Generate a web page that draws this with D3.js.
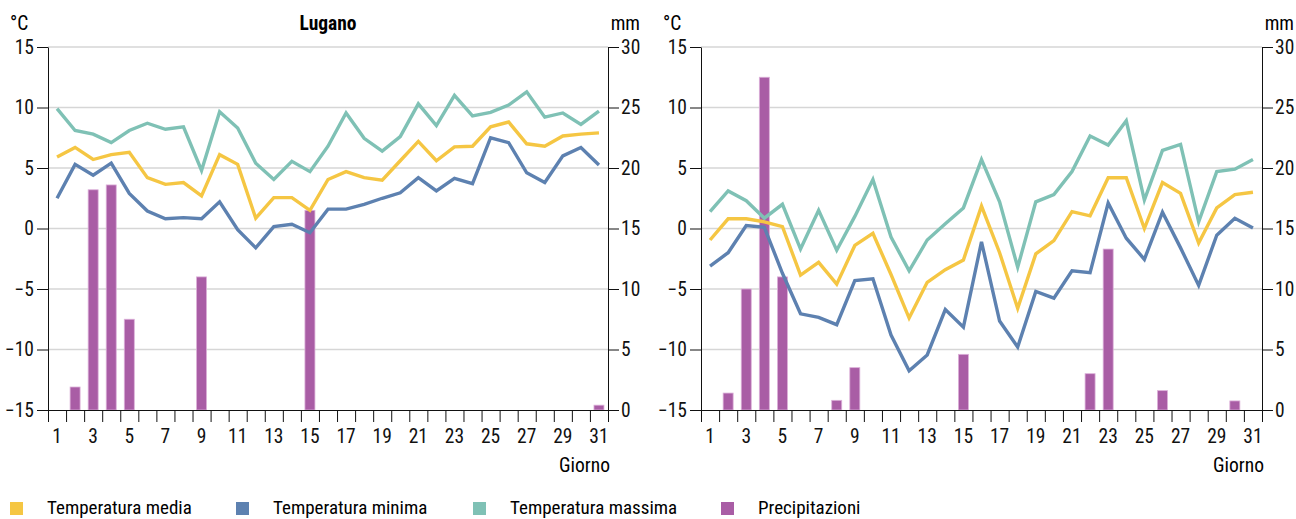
<!DOCTYPE html>
<html>
<head>
<meta charset="utf-8">
<script src="https://cdn.jsdelivr.net/npm/d3@7"></script>
<style>
  body { margin: 0; background: #fff; }
  svg { display: block; font-family: "Roboto Condensed", Roboto, sans-serif; }
  .grid line { stroke: #d6d6d6; stroke-width: 1.5; }
  .axis path, .axis line { stroke: #111; }
  .axis text { font-size: 19.5px; fill: #111; font-family: "Roboto Condensed", Roboto, sans-serif; }
</style>
</head>
<body>
<div class="chart-container"></div>
<script>
var width = 1296;
var height = 519;

var days = d3.range(1, 32);
var dayLabels = d3.range(1, 32, 2);
var tempTicks = [-15, -10, -5, 0, 5, 10, 15];
var rainTicks = [0, 5, 10, 15, 20, 25, 30];

// Lugano (left panel)
var luganoMedia = [5.9, 6.7, 5.7, 6.1, 6.3, 4.2, 3.65, 3.8, 2.7, 6.1, 5.3, 0.85, 2.55, 2.55, 1.5,
  4.05, 4.7, 4.2, 4.0, 5.6, 7.2, 5.6, 6.75, 6.8, 8.4, 8.8, 7.0, 6.8, 7.65, 7.8, 7.9];
var luganoMinima = [2.5, 5.3, 4.4, 5.4, 2.9, 1.45, 0.8, 0.9, 0.8, 2.2, -0.1, -1.6, 0.15, 0.35, -0.35,
  1.6, 1.6, 2.0, 2.5, 2.95, 4.2, 3.1, 4.15, 3.7, 7.5, 7.1, 4.6, 3.8, 6.0, 6.7, 5.25];
var luganoMassima = [9.9, 8.1, 7.8, 7.1, 8.1, 8.7, 8.2, 8.4, 4.8, 9.65, 8.3, 5.4, 4.05, 5.55, 4.7,
  6.8, 9.55, 7.45, 6.4, 7.6, 10.3, 8.5, 11.0, 9.3, 9.6, 10.2, 11.3, 9.2, 9.55, 8.6, 9.7];
var luganoPrec = [0, 1.9, 18.2, 18.6, 7.5, 0, 0, 0, 11.0, 0, 0, 0, 0, 0, 16.5,
  0, 0, 0, 0, 0, 0, 0, 0, 0, 0, 0, 0, 0, 0, 0, 0.4];

// second station (right panel)
var destraMedia = [-0.95, 0.8, 0.8, 0.55, 0.15, -3.85, -2.8, -4.6, -1.4, -0.4, -3.8, -7.4, -4.45, -3.4, -2.6,
  1.85, -2.0, -6.6, -2.1, -1.0, 1.4, 1.05, 4.2, 4.2, 0.0, 3.8, 2.9, -1.2, 1.7, 2.8, 3.0];
var destraMinima = [-3.1, -2.0, 0.25, 0.1, -3.7, -7.05, -7.35, -7.95, -4.3, -4.15, -8.8, -11.75, -10.45, -6.7, -8.15,
  -1.1, -7.65, -9.8, -5.2, -5.75, -3.5, -3.65, 2.1, -0.8, -2.55, 1.35, -1.6, -4.7, -0.55, 0.85, 0.05];
var destraMassima = [1.4, 3.1, 2.3, 0.85, 2.0, -1.7, 1.5, -1.8, 1.0, 4.05, -0.7, -3.5, -0.95, 0.4, 1.7,
  5.7, 2.2, -3.2, 2.2, 2.8, 4.7, 7.65, 6.9, 8.9, 2.35, 6.45, 6.95, 0.55, 4.7, 4.9, 5.7];
var destraPrec = [0, 1.4, 10.0, 27.5, 11.0, 0, 0, 0.8, 3.5, 0, 0, 0, 0, 0, 4.6,
  0, 0, 0, 0, 0, 0, 3.0, 13.3, 0, 0, 1.6, 0, 0, 0, 0.75, 0];

var legendItems = ['Temperatura media', 'Temperatura minima', 'Temperatura massima', 'Precipitazioni'];
var colors = {
  media: '#f5c643',
  minima: '#5d81b0',
  massima: '#7fc1b5',
  prec: '#a95da5'
};
var legendColors = [colors.media, colors.minima, colors.massima, colors.prec];

var svg = d3.select('.chart-container').append('svg')
  .attr('width', width)
  .attr('height', height);

function drawPanel(left, right, title, media, minima, massima, prec) {
  var top = 47, bottom = 410;

  var x = d3.scaleBand()
    .domain(days)
    .range([left, right]);

  var xEdge = d3.scaleLinear()
    .domain([0, 31])
    .range([left, right]);

  var y = d3.scaleLinear()
    .domain([-15, 15])
    .range([bottom, top]);

  var yRain = d3.scaleLinear()
    .domain([0, 30])
    .range([bottom, top]);

  var g = svg.append('g');

  g.append('g')
    .attr('class', 'grid')
    .selectAll('line')
    .data(tempTicks.slice(1))
    .enter().append('line')
      .attr('x1', left)
      .attr('x2', right)
      .attr('y1', d => y(d))
      .attr('y2', d => y(d));

  // precipitation bars
  var barW = 10;
  g.append('g')
    .selectAll('rect')
    .data(prec.map((v, i) => ({day: days[i], v: v})).filter(d => d.v > 0))
    .enter().append('rect')
      .attr('x', d => x(d.day) + x.bandwidth() / 2 - barW / 2)
      .attr('y', d => yRain(d.v))
      .attr('width', barW)
      .attr('height', d => yRain(0) - yRain(d.v))
      .attr('fill', colors.prec)
      .attr('stroke', '#dcb0d9')
      .attr('stroke-width', 0.8);

  var line = d3.line()
    .x((d, i) => x(days[i]) + x.bandwidth() / 2)
    .y(d => y(d));

  [[massima, colors.massima], [media, colors.media], [minima, colors.minima]].forEach(function(s) {
    g.append('path')
      .datum(s[0])
      .attr('d', line)
      .attr('fill', 'none')
      .attr('stroke', s[1])
      .attr('stroke-width', 3.4)
      .attr('stroke-linejoin', 'miter');
  });

  g.append('g')
    .attr('class', 'axis')
    .attr('transform', `translate(${left},0)`)
    .call(d3.axisLeft(y).tickValues(tempTicks).tickSize(11).tickSizeOuter(0).tickPadding(3));

  g.append('g')
    .attr('class', 'axis')
    .attr('transform', `translate(${right},0)`)
    .call(d3.axisRight(yRain).tickValues(rainTicks).tickSize(11).tickSizeOuter(0).tickPadding(2));

  // day ticks on the band edges
  g.append('g')
    .attr('class', 'axis')
    .attr('transform', `translate(0,${bottom})`)
    .call(d3.axisBottom(xEdge).tickValues(d3.range(0, 32)).tickSize(12).tickSizeOuter(0).tickFormat(''));

  var gx = g.append('g')
    .attr('class', 'axis')
    .attr('transform', `translate(0,${bottom})`)
    .call(d3.axisBottom(x).tickValues(dayLabels).tickSize(0).tickPadding(19));
  gx.select('.domain').remove();

  g.append('text')
    .attr('x', left - 38)
    .attr('y', 30)
    .attr('font-size', 19.5)
    .text('°C');

  g.append('text')
    .attr('x', right + 32)
    .attr('y', 30)
    .attr('text-anchor', 'end')
    .attr('font-size', 19.5)
    .text('mm');

  g.append('text')
    .attr('x', right + 2)
    .attr('y', 472)
    .attr('text-anchor', 'end')
    .attr('font-size', 19.5)
    .text('Giorno');

  if (title) {
    g.append('text')
      .attr('x', (left + right) / 2)
      .attr('y', 30)
      .attr('text-anchor', 'middle')
      .attr('font-size', 19.5)
      .attr('font-weight', 'bold')
      .text(title);
  }
}

drawPanel(48, 608, 'Lugano', luganoMedia, luganoMinima, luganoMassima, luganoPrec);
drawPanel(701, 1262, '', destraMedia, destraMinima, destraMassima, destraPrec);

var legendX = [10, 236, 473, 721];
var legend = svg.append('g')
  .selectAll('g')
  .data(legendItems)
  .enter().append('g')
    .attr('transform', (d, i) => `translate(${legendX[i]},0)`);

legend.append('rect')
  .attr('x', 0)
  .attr('y', 502)
  .attr('width', 13)
  .attr('height', 13)
  .attr('fill', (d, i) => legendColors[i]);

legend.append('text')
  .attr('x', 37)
  .attr('y', 514)
  .attr('font-size', 19)
  .text(d => d);
</script>
</body>
</html>
